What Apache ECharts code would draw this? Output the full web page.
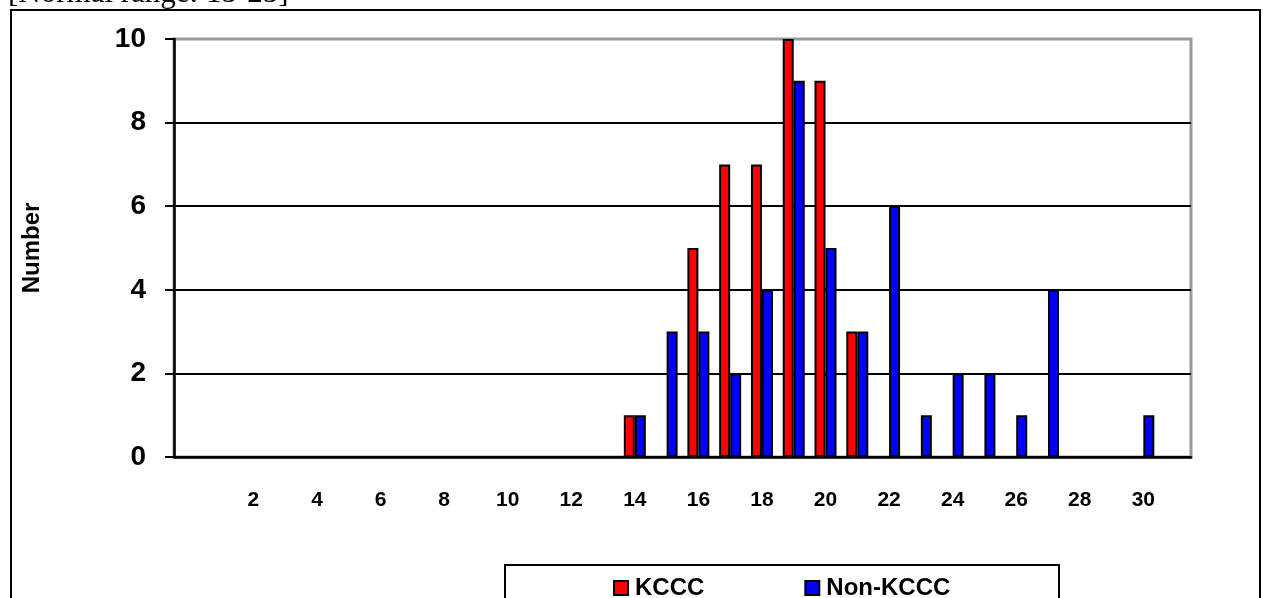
<!DOCTYPE html>
<html>
<head>
<meta charset="utf-8">
<script src="https://cdn.jsdelivr.net/npm/echarts@6/dist/echarts.min.js"></script>
<style>
  html, body { margin: 0; padding: 0; background: #fff; }
  #chart { width: 1263px; height: 598px; }
</style>
</head>
<body>
<div id="chart"></div>
<script>
// chart values
var categories = ['0','1','2','3','4','5','6','7','8','9','10','11','12','13','14','15',
                  '16','17','18','19','20','21','22','23','24','25','26','27','28','29','30','31'];
var kcccValues    = [0,0,0,0,0,0,0,0,0,0,0,0,0,0,1,0,5,7,7,10,9,3,0,0,0,0,0,0,0,0,0,0];
var nonKcccValues = [0,0,0,0,0,0,0,0,0,0,0,0,0,0,1,3,3,2,4,9,5,3,6,1,2,2,1,4,0,0,1,0];
var yTicks = [0, 2, 4, 6, 8, 10];
var seriesNames = ['KCCC', 'Non-KCCC'];
var titleText = '[Normal range: 15-25]';

var sans = 'Arial, "Liberation Sans", sans-serif';

var chart = echarts.init(document.getElementById('chart'));

chart.setOption({
    animation: false,
    backgroundColor: '#fff',
    graphic: [
        { // clipped title at the very top
            type: 'text', left: 8, top: -22, z: 10,
            style: { text: titleText, font: '31px "Liberation Serif", "Times New Roman", serif', fill: '#000' }
        },
        { // outer frame
            type: 'rect', z: -1,
            shape: { x: 11, y: 10, width: 1249, height: 600 },
            style: { fill: 'none', stroke: '#000', lineWidth: 2 }
        },
        { // legend frame
            type: 'rect', z: -1,
            shape: { x: 505, y: 565, width: 554, height: 60 },
            style: { fill: '#fff', stroke: '#000', lineWidth: 2 }
        }
    ],
    grid: {
        left: 174, right: 72, top: 39, bottom: 141,
        show: true, borderColor: '#9a9a9a', borderWidth: 3
    },
    legend: {
        data: seriesNames,
        left: 608, top: 571,
        itemWidth: 14, itemHeight: 14, itemGap: 100,
        icon: 'rect',
        textStyle: { fontFamily: sans, fontWeight: 'bold', fontSize: 24, color: '#000', padding: [0, 0, 0, 2] }
    },
    xAxis: {
        type: 'category',
        data: categories,
        boundaryGap: true,
        axisLine: { lineStyle: { color: '#000', width: 2.5 } },
        axisTick: { interval: 0, length: 8, lineStyle: { color: '#000', width: 2 } },
        axisLabel: {
            interval: function (i) { return i > 0 && i % 2 === 0; },
            margin: 33,
            fontFamily: sans, fontWeight: 'bold', fontSize: 21, color: '#000'
        },
        splitLine: { show: false }
    },
    yAxis: {
        type: 'value',
        min: yTicks[0], max: yTicks[yTicks.length - 1], interval: 2,
        name: 'Number',
        nameLocation: 'middle',
        nameRotate: 90,
        nameGap: 130,
        nameTextStyle: { fontFamily: sans, fontWeight: 'bold', fontSize: 24, color: '#000' },
        axisLine: { show: true, lineStyle: { color: '#000', width: 2.5 } },
        axisTick: { show: true, length: 9, lineStyle: { color: '#000', width: 2 } },
        axisLabel: { margin: 28, fontFamily: sans, fontWeight: 'bold', fontSize: 28, color: '#000' },
        splitLine: { show: true, showMaxLine: false, lineStyle: { color: '#000', width: 2 } }
    },
    series: [
        {
            name: seriesNames[0], type: 'bar', data: kcccValues,
            barWidth: 11, barGap: '0%',
            itemStyle: { color: '#ff0000', borderColor: '#000', borderWidth: 2 }
        },
        {
            name: seriesNames[1], type: 'bar', data: nonKcccValues,
            barWidth: 11, barGap: '0%',
            itemStyle: { color: '#0000ff', borderColor: '#000', borderWidth: 2 }
        }
    ]
});
</script>
</body>
</html>
